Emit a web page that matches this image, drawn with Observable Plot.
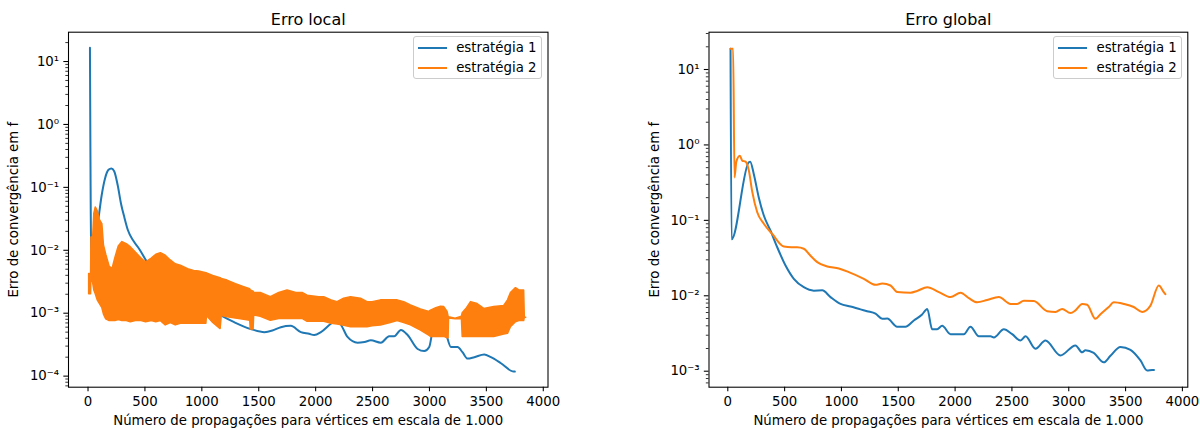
<!DOCTYPE html>
<html><head><meta charset="utf-8">
<script src="https://cdn.jsdelivr.net/npm/d3@7"></script>
<script src="https://cdn.jsdelivr.net/npm/@observablehq/plot@0.6"></script>
<style>
body{margin:0;background:#fff;font-family:"DejaVu Sans",sans-serif;color:#000;}
#wrap{display:flex;width:1200px;height:428px;overflow:hidden;}
.panel{position:relative;width:600px;height:428px;}
.legend{position:absolute;background:rgba(255,255,255,0.8);border:1px solid #cccccc;border-radius:3px;box-sizing:border-box;font-size:13.3px;}
.legend .sw{position:absolute;height:2px;}
.legend .lb{position:absolute;line-height:16px;white-space:nowrap;}
</style></head>
<body><div id="wrap"></div>
<script>
// ---------- data ----------
const seriesNames = ["estratégia 1", "estratégia 2"];
const colors = ["#1f77b4", "#ff7f0e"];
const xTicks = [0, 500, 1000, 1500, 2000, 2500, 3000, 3500, 4000];

// Erro local, estratégia 1
const localX1 = [17,30,60,90,120,150,180,205,230,260,290,320,350,400,450,520,600,700,800,900,1000,1100,1167,1284,1430,1550,1620,1694,1782,1870,1943,1987,2046,2134,2190,2230,2280,2368,2430,2485,2573,2646,2690,2749,2808,2896,2954,2998,3042,3075,3115,3150,3189,3247,3290,3335,3394,3481,3540,3628,3731,3750];
const localY1 = [16.5,0.0045,0.012,0.03,0.075,0.14,0.19,0.2,0.18,0.11,0.055,0.033,0.021,0.014,0.0105,0.0065,0.0048,0.0036,0.0026,0.0019,0.00145,0.00108,0.00092,0.00072,0.00056,0.0005,0.00053,0.0006,0.00063,0.0005,0.00047,0.00045,0.0005,0.00068,0.00078,0.00062,0.00042,0.00034,0.00035,0.00037,0.00034,0.00043,0.00043,0.00054,0.00045,0.00027,0.00025,0.00029,0.00077,0.00095,0.00075,0.00045,0.00029,0.00029,0.00024,0.00019,0.0002,0.00022,0.0002,0.00016,0.000119,0.000118];

// Erro local, estratégia 2 (rapidly oscillating: upper / lower envelope)
const localX2 = [10,27,30,45,55,68,85,105,126,140,160,190,215,240,270,302,340,375,420,470,510,560,600,640,683,727,771,815,880,932,976,1040,1045,1100,1165,1175,1225,1300,1372,1425,1430,1455,1460,1518,1606,1680,1753,1830,1885,1929,2031,2075,2140,2192,2250,2310,2398,2456,2500,2573,2660,2720,2778,2837,2925,2998,3013,3060,3101,3130,3159,3168,3172,3230,3285,3292,3330,3365,3423,3481,3569,3657,3690,3716,3760,3790,3832,3838,3850];
const localHi2 = [0.0042,0.0042,0.016,0.016,0.038,0.048,0.042,0.03,0.026,0.012,0.0085,0.0055,0.005,0.0075,0.0115,0.0135,0.0125,0.0112,0.0092,0.0074,0.0064,0.0074,0.0085,0.009,0.0082,0.0069,0.006,0.0057,0.005,0.0047,0.0046,0.0043,0.0043,0.0039,0.0036,0.0035,0.0033,0.0029,0.0026,0.0024,0.0023,0.0022,0.0021,0.0021,0.0018,0.0021,0.0023,0.0021,0.0021,0.0019,0.0018,0.0018,0.0016,0.0015,0.0017,0.0018,0.0017,0.0015,0.0015,0.0016,0.0016,0.0016,0.0015,0.00133,0.00115,0.00105,0.0011,0.0012,0.00127,0.00125,0.00105,0.00088,0.00086,0.00082,0.00088,0.001,0.0012,0.0015,0.0014,0.00117,0.00125,0.0013,0.0016,0.0021,0.0025,0.0023,0.0023,0.00085,0.00085];
const localLo2 = [0.002,0.002,0.004,0.003,0.0023,0.002,0.0016,0.0014,0.0012,0.00095,0.0008,0.00075,0.00075,0.00075,0.00078,0.00075,0.00075,0.00072,0.00075,0.00075,0.00072,0.00075,0.00072,0.00075,0.00064,0.0007,0.00064,0.00068,0.00068,0.00068,0.00068,0.00068,0.0009,0.0007,0.00056,0.0009,0.00086,0.00082,0.00079,0.00076,0.00055,0.00055,0.00092,0.00088,0.00076,0.00081,0.00081,0.00081,0.00081,0.00073,0.00073,0.00073,0.00068,0.00066,0.00063,0.0006,0.0006,0.0006,0.00062,0.00064,0.0007,0.00075,0.0007,0.00064,0.00053,0.00044,0.00042,0.00042,0.00042,0.00042,0.0004,0.0004,0.00082,0.0008,0.0008,0.00042,0.00042,0.00042,0.00042,0.00042,0.00042,0.00046,0.00047,0.0006,0.00072,0.00075,0.00075,0.00085,0.00085];

// Erro global, estratégia 1
const globalX1 = [24,33,185,197,229,273,317,376,435,508,581,669,757,831,904,992,1080,1168,1226,1300,1359,1403,1490,1563,1637,1710,1755,1798,1842,1886,1960,2077,2135,2209,2312,2341,2429,2502,2576,2620,2707,2795,2927,3059,3118,3147,3220,3308,3367,3455,3543,3631,3690,3734,3750];
const globalY1 = [18.8,0.056,0.59,0.6,0.41,0.2,0.116,0.073,0.044,0.0252,0.0168,0.013,0.0117,0.0118,0.0096,0.0078,0.0072,0.0066,0.00625,0.0058,0.00495,0.005,0.0039,0.0039,0.0047,0.00565,0.0067,0.0036,0.0036,0.004,0.0031,0.0031,0.0039,0.0029,0.0029,0.0028,0.0036,0.0031,0.00255,0.0029,0.00198,0.00255,0.00162,0.0022,0.00178,0.0019,0.00175,0.00131,0.0016,0.0021,0.00192,0.00139,0.00102,0.00104,0.00104];

// Erro global, estratégia 2
const globalX2 = [24,47,59,75,106,127,156,185,215,259,317,391,493,560,611,669,720,787,875,977,1065,1197,1300,1359,1432,1490,1608,1666,1755,1857,1960,2048,2121,2194,2282,2385,2488,2546,2605,2693,2810,2884,2942,3015,3059,3118,3162,3235,3279,3352,3396,3484,3572,3646,3719,3792,3836,3850];
const globalY2 = [18.8,18.8,0.37,0.6,0.72,0.62,0.6,0.46,0.24,0.128,0.09,0.066,0.045,0.044,0.044,0.042,0.035,0.0279,0.0245,0.023,0.0206,0.0168,0.014,0.0145,0.0137,0.0112,0.011,0.0116,0.013,0.0112,0.0096,0.011,0.0093,0.0082,0.0088,0.0096,0.0078,0.0078,0.0086,0.0085,0.00625,0.0061,0.0067,0.0059,0.0064,0.0078,0.0076,0.00495,0.0057,0.0071,0.0082,0.0078,0.0071,0.0061,0.0074,0.0137,0.0112,0.0105];

const titles = ["Erro local", "Erro global"];
const xLabel = "Número de propagações para vértices em escala de 1.000";
const yLabel = "Erro de convergência em f";

// ---------- helpers ----------
const SUP = {"-":"⁻","0":"⁰","1":"¹","2":"²","3":"³","4":"⁴","5":"⁵","6":"⁶","7":"⁷","8":"⁸","9":"⁹"};
const fmtPow = d => "10" + String(Math.round(Math.log10(d))).split("").map(c => SUP[c]).join("");
function logTicks(lo, hi) {
  const major = [], minor = [];
  for (let e = Math.floor(Math.log10(lo)) - 1; e <= Math.ceil(Math.log10(hi)); e++) {
    for (let m = 1; m < 10; m++) {
      const v = m * Math.pow(10, e);
      if (v < lo * 0.9999 || v > hi * 1.0001) continue;
      (m === 1 ? major : minor).push(v);
    }
  }
  return {major, minor};
}
const FS = 13.3;

function panel(cfg) {
  const yDom = [Math.pow(10, cfg.yLog[0]), Math.pow(10, cfg.yLog[1])];
  const t = logTicks(yDom[0], yDom[1]);
  const marks = [
    ...cfg.dataMarks,
    Plot.frame({stroke: "black", strokeWidth: 1.07}),
    Plot.axisX({ticks: xTicks, tickFormat: d => String(d), tickSize: 4.67, tickPadding: 4.67, fontSize: FS, strokeWidth: 1.07, label: null}),
    Plot.axisY({ticks: t.major, tickFormat: fmtPow, tickSize: 4.67, tickPadding: 4.67, fontSize: FS, strokeWidth: 1.07, label: null}),
    Plot.axisY({ticks: t.minor, tickFormat: () => "", tickSize: 2.67, strokeWidth: 0.8, label: null}),
    Plot.text([cfg.title], {text: d => d, frameAnchor: "top", lineAnchor: "middle", dy: -12.7, fontSize: 16, fill: "black"}),
    Plot.text([xLabel], {text: d => d, frameAnchor: "bottom", lineAnchor: "middle", dy: 34, fontSize: FS, fill: "black"}),
    Plot.text([yLabel], {text: d => d, frameAnchor: "left", lineAnchor: "middle", textAnchor: "middle", rotate: -90, dx: cfg.yLabelDx, fontSize: FS, fill: "black"})
  ];
  const chart = Plot.plot({
    width: 600, height: 428,
    marginLeft: cfg.ml, marginRight: cfg.mr, marginTop: 31.7, marginBottom: 41.3,
    style: {fontFamily: "DejaVu Sans", fontSize: FS + "px", color: "black", background: "white", overflow: "visible"},
    x: {domain: cfg.xDom},
    y: {type: "log", domain: yDom},
    marks
  });
  const div = document.createElement("div");
  div.className = "panel";
  div.appendChild(chart);
  // legend
  const lg = document.createElement("div");
  lg.className = "legend";
  Object.assign(lg.style, {left: cfg.lgLeft + "px", top: "35.7px", width: "129px", height: "43.6px"});
  seriesNames.forEach((name, i) => {
    const sw = document.createElement("div");
    sw.className = "sw";
    Object.assign(sw.style, {left: "4px", top: (10 + i * 20.6) + "px", width: "29px", background: colors[i]});
    const lb = document.createElement("div");
    lb.className = "lb";
    Object.assign(lb.style, {left: "42.5px", top: (3 + i * 20.6) + "px"});
    lb.textContent = name;
    lg.appendChild(sw); lg.appendChild(lb);
  });
  div.appendChild(lg);
  return div;
}

const localT1 = localX1.map((x, i) => ({x, y: localY1[i]}));
const localT2 = localX2.map((x, i) => ({x, hi: localHi2[i], lo: localLo2[i]}));
const globalT1 = globalX1.map((x, i) => ({x, y: globalY1[i]}));
const globalT2 = globalX2.map((x, i) => ({x, y: globalY2[i]}));

const wrap = document.getElementById("wrap");
wrap.appendChild(panel({
  title: titles[0], ml: 68, mr: 52.5, xDom: [-171.5, 4041.5], yLog: [-4.176, 1.466], yLabelDx: -54.5, lgLeft: 412.7,
  dataMarks: [
    Plot.line(localT1, {x: "x", y: "y", stroke: colors[0], strokeWidth: 2, curve: "monotone-x", strokeLinejoin: "round"}),
    Plot.areaY(localT2, {x: "x", y1: "lo", y2: "hi", fill: colors[1], stroke: colors[1], strokeWidth: 1.5, curve: "linear"})
  ]
}));
wrap.appendChild(panel({
  title: titles[1], ml: 108.5, mr: 12.7, xDom: [-165.4, 4047.5], yLog: [-3.212, 1.4945], yLabelDx: -54.5, lgLeft: 453,
  dataMarks: [
    Plot.line(globalT1, {x: "x", y: "y", stroke: colors[0], strokeWidth: 2, curve: "monotone-x", strokeLinejoin: "round"}),
    Plot.line(globalT2, {x: "x", y: "y", stroke: colors[1], strokeWidth: 2, curve: "monotone-x", strokeLinejoin: "round"})
  ]
}));
</script></body></html>
